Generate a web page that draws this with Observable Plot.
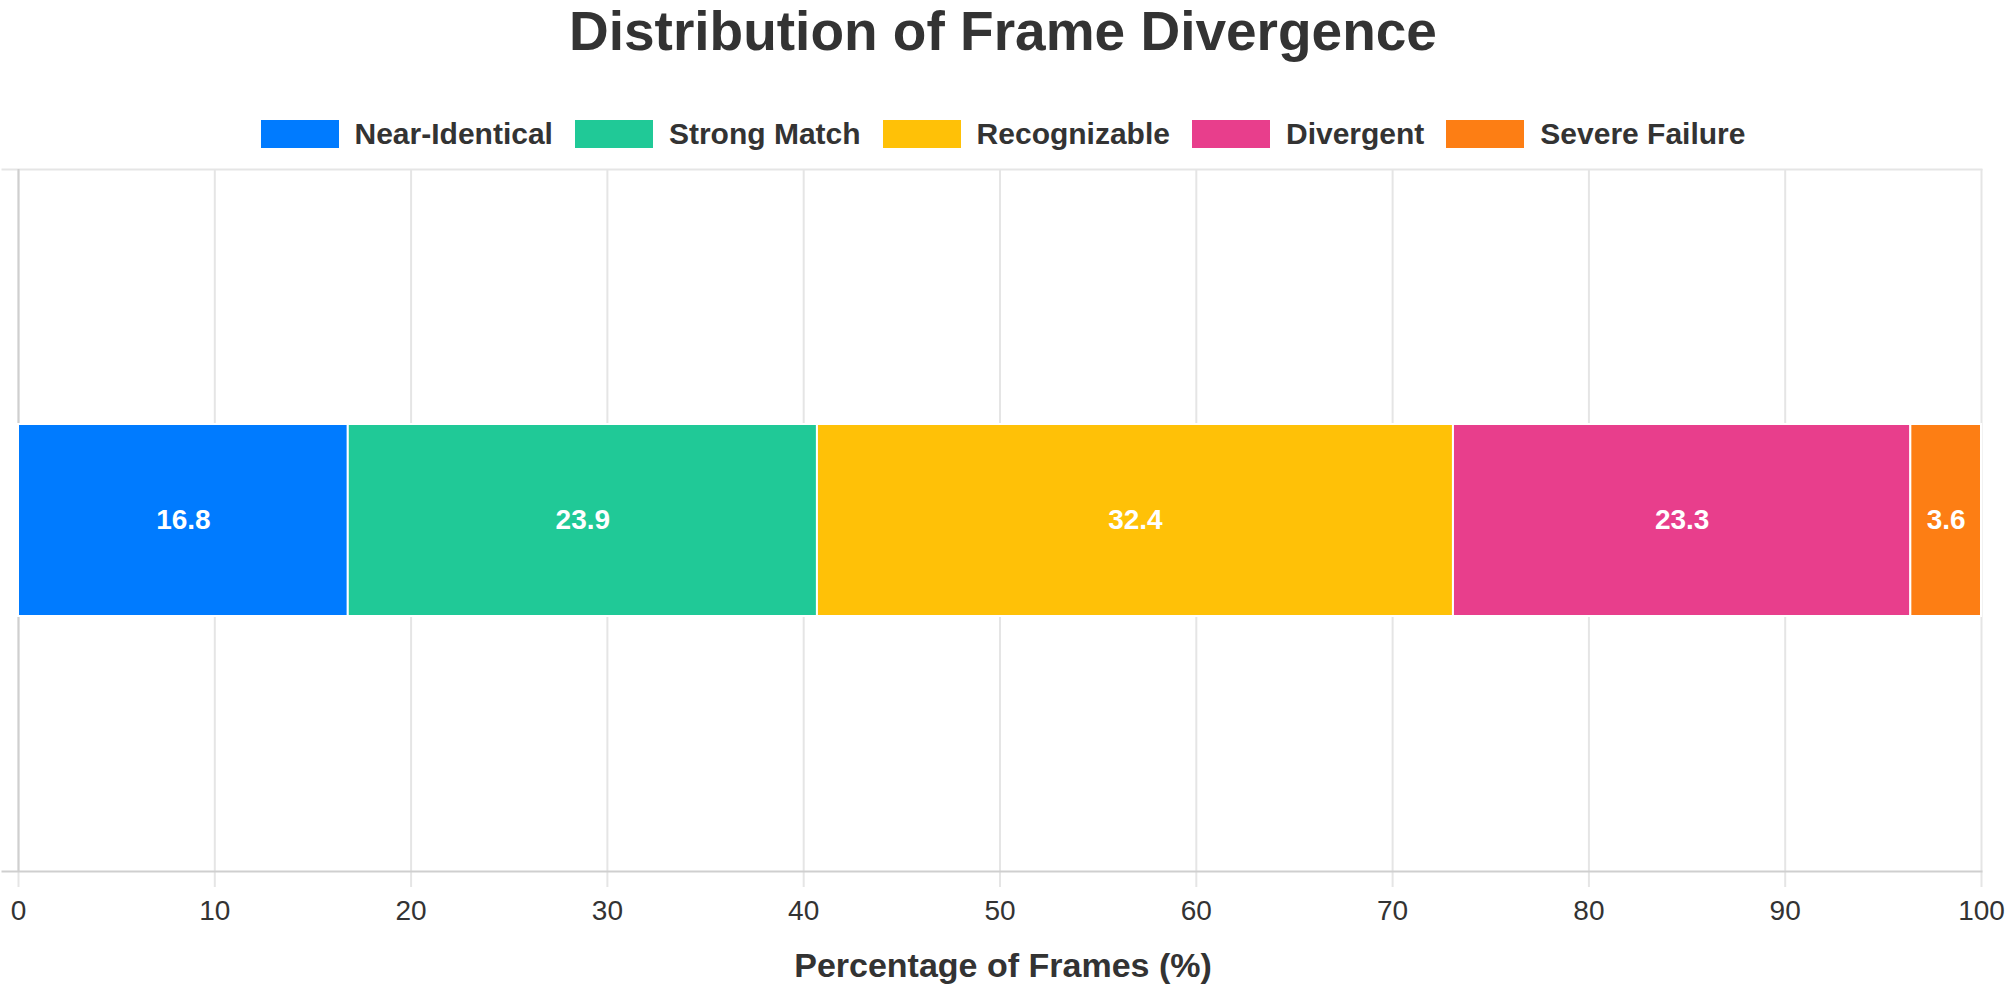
<!DOCTYPE html>
<html>
<head>
<meta charset="utf-8">
<script src="https://cdn.jsdelivr.net/npm/d3@7"></script>
<script src="https://cdn.jsdelivr.net/npm/@observablehq/plot@0.6"></script>
<style>
  body { margin: 0; width: 2006px; height: 984px; position: relative; background: #fff; overflow: hidden;
         font-family: "Liberation Sans", Arial, Helvetica, sans-serif; color: #333; }
  #title { position: absolute; left: 0; top: 0; width: 2006px; text-align: center;
           font-size: 55px; font-weight: bold; line-height: 62px; }
  #legend { position: absolute; left: 0; top: 120px; width: 2006px; height: 28px;
            display: flex; justify-content: center; align-items: center; }
  .item { display: flex; align-items: center; margin: 0 11px; }
  .swatch { width: 78px; height: 28px; margin-right: 16px; }
  .label { font-size: 30px; font-weight: bold; line-height: 28px; white-space: nowrap; }
  #chart { position: absolute; left: 0; top: 150px; }
  #xlabel { position: absolute; left: 0; top: 948px; width: 2006px; text-align: center;
            font-size: 34px; font-weight: bold; line-height: 34px; }
</style>
</head>
<body>
<div id="title">Distribution of Frame Divergence</div>
<div id="legend"></div>
<div id="chart"></div>
<div id="xlabel">Percentage of Frames (%)</div>
<script>
const categories = ["Near-Identical", "Strong Match", "Recognizable", "Divergent", "Severe Failure"];
const values = [16.8, 23.9, 32.4, 23.3, 3.6];
const colors = ["#007bff", "#20c997", "#ffc107", "#e83e8c", "#fd7e14"];
const xTicks = [0, 10, 20, 30, 40, 50, 60, 70, 80, 90, 100];
const rowLabel = "Frames";

const data = categories.map((c, i) => ({category: c, value: values[i], row: rowLabel}));

// Legend
const legend = document.getElementById("legend");
categories.forEach((c, i) => {
  const item = document.createElement("div");
  item.className = "item";
  const sw = document.createElement("div");
  sw.className = "swatch";
  sw.style.background = colors[i];
  const lb = document.createElement("span");
  lb.className = "label";
  lb.textContent = c;
  item.appendChild(sw);
  item.appendChild(lb);
  legend.appendChild(item);
});

const chart = Plot.plot({
  width: 2006,
  height: 834,
  marginTop: 19,
  marginBottom: 113,
  marginLeft: 18,
  marginRight: 25,
  style: {fontFamily: "'Liberation Sans', Arial, Helvetica, sans-serif", color: "#333", background: "#fff", overflow: "visible"},
  x: {domain: [0, 100]},
  y: {domain: [rowLabel], padding: 0.5705, axis: null},
  color: {domain: categories, range: colors},
  marks: [
    Plot.gridX(xTicks, {stroke: "#e5e5e5", strokeOpacity: 1, strokeWidth: 2}),
    Plot.frame({anchor: "top", stroke: "#e5e5e5", strokeWidth: 2, insetLeft: -16}),
    Plot.axisX(xTicks, {tickSize: 16, tickPadding: 13, stroke: "#e5e5e5", strokeWidth: 2, strokeOpacity: 1,
                        fontSize: 28, fill: "#333", label: null, tickFormat: d => String(d)}),
    Plot.ruleX([0], {stroke: "#cfcfcf", strokeWidth: 2}),
    Plot.frame({anchor: "bottom", stroke: "#cfcfcf", strokeWidth: 2, insetLeft: -16}),
    Plot.barX(data, Plot.stackX({x: "value", y: "row", fill: "category", order: null, stroke: "white", strokeWidth: 2})),
    Plot.text(data, Plot.stackX({x: "value", y: "row", order: null, text: d => d.value.toFixed(1),
                                 fill: "white", fontSize: 28, fontWeight: "bold"}))
  ]
});
document.getElementById("chart").appendChild(chart);
</script>
</body>
</html>
